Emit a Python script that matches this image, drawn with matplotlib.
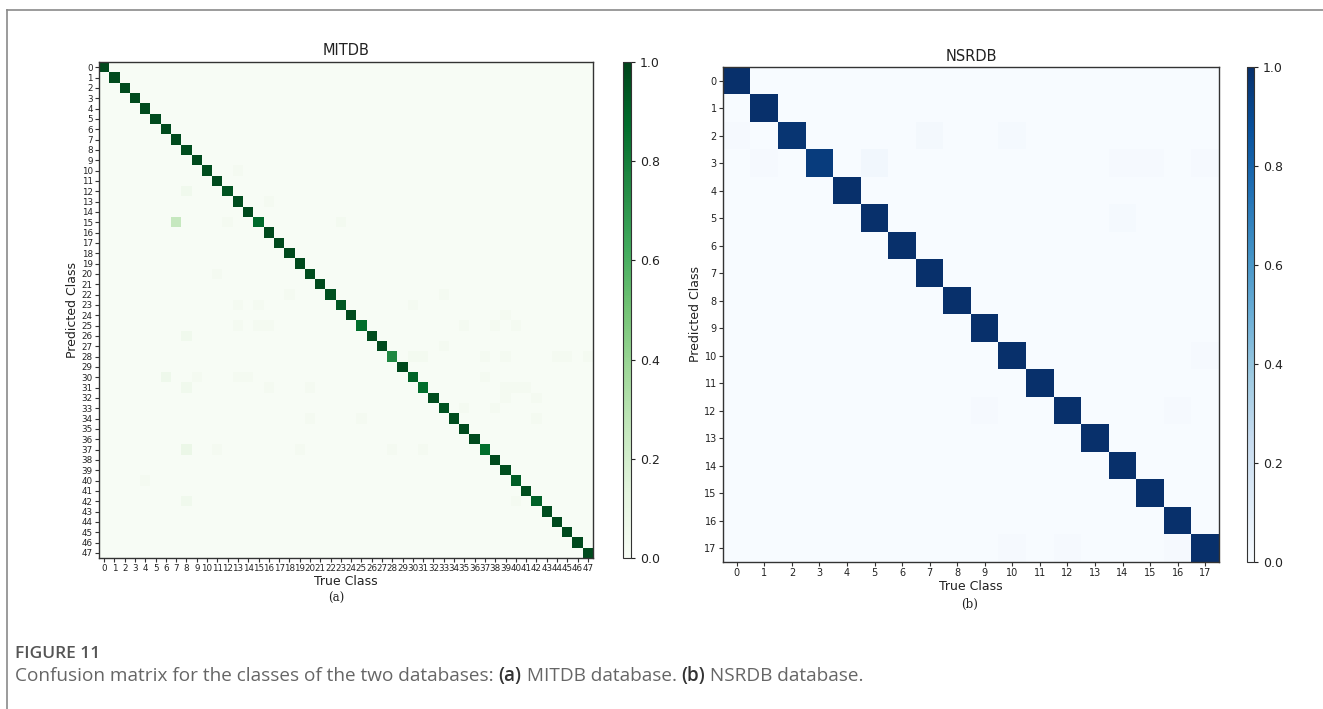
import numpy as np
import matplotlib
matplotlib.use("Agg")
import matplotlib.pyplot as plt
from matplotlib.lines import Line2D

# ---------------- data ----------------
mit_classes = list(range(48))
mit_diag = [0.98, 0.98, 0.98, 0.98, 0.98, 0.98, 0.98, 0.98, 0.97, 0.98,
            0.97, 0.98, 0.95, 0.97, 0.98, 0.88, 0.98, 0.98, 0.98, 0.98,
            0.97, 0.98, 0.96, 0.94, 0.98, 0.87, 0.97, 0.98, 0.76, 0.98,
            0.90, 0.87, 0.97, 0.95, 0.97, 0.98, 0.98, 0.87, 0.98, 0.97,
            0.92, 0.97, 0.91, 0.97, 0.98, 0.98, 0.98, 0.98]
mit_off_rows = [10, 12, 13, 15, 15, 15, 20, 22, 22, 23, 23, 23, 24, 25, 25, 25, 25, 25, 25,
                26, 27, 28, 28, 28, 28, 28, 28, 28, 30, 30, 30, 30, 30, 31, 31, 31, 31, 31, 31,
                32, 32, 33, 33, 34, 34, 34, 37, 37, 37, 37, 37, 40, 42, 42]
mit_off_cols = [13, 8, 16, 7, 12, 23, 11, 18, 33, 13, 15, 30, 39, 13, 15, 16, 35, 38, 40,
                8, 33, 30, 31, 37, 39, 44, 45, 47, 6, 9, 13, 14, 37, 8, 16, 20, 39, 40, 41,
                39, 42, 35, 38, 20, 25, 42, 8, 11, 19, 28, 31, 4, 8, 40]
mit_off_vals = [0.02, 0.05, 0.02, 0.25, 0.02, 0.03, 0.02, 0.02, 0.02, 0.02, 0.02, 0.02, 0.02,
                0.02, 0.02, 0.02, 0.02, 0.02, 0.02, 0.05, 0.02, 0.03, 0.03, 0.02, 0.02, 0.02,
                0.02, 0.02, 0.06, 0.02, 0.02, 0.02, 0.02, 0.05, 0.02, 0.02, 0.02, 0.02, 0.02,
                0.02, 0.02, 0.02, 0.02, 0.02, 0.02, 0.02, 0.08, 0.02, 0.02, 0.02, 0.02, 0.02,
                0.05, 0.02]

ns_classes = list(range(18))
ns_diag = [1.0, 1.0, 0.98, 0.95, 1.0, 1.0, 1.0, 1.0, 1.0,
           1.0, 1.0, 1.0, 1.0, 1.0, 1.0, 1.0, 1.0, 1.0]
ns_off_rows = [2, 2, 2, 3, 3, 3, 3, 3, 5, 10, 12, 12, 17, 17, 17]
ns_off_cols = [0, 7, 10, 1, 5, 14, 15, 17, 14, 17, 9, 16, 10, 12, 16]
ns_off_vals = [0.01, 0.02, 0.015, 0.01, 0.03, 0.01, 0.01, 0.01, 0.015, 0.01, 0.01, 0.01,
               0.01, 0.01, 0.01]

titles = ["MITDB", "NSRDB"]
xlabel = "True Class"
ylabel = "Predicted Class"
cbar_ticks = [0.0, 0.2, 0.4, 0.6, 0.8, 1.0]
caption_head = "FIGURE 11"
caption_parts = ["Confusion matrix for the classes of the two databases: ", "(a)",
                 " MITDB database. ", "(b)", " NSRDB database."]


def build(n, diag, rows, cols, vals):
    m = np.zeros((n, n))
    m[np.arange(n), np.arange(n)] = diag
    m[rows, cols] = vals
    return m


mit = build(len(mit_classes), mit_diag, mit_off_rows, mit_off_cols, mit_off_vals)
ns = build(len(ns_classes), ns_diag, ns_off_rows, ns_off_cols, ns_off_vals)

# ---------------- figure ----------------
W, H = 1323, 709
fig = plt.figure(figsize=(W / 100, H / 100), dpi=100)
fig.patch.set_facecolor("white")


def box(x0, y0, x1, y1):
    return [x0 / W, 1 - y1 / H, (x1 - x0) / W, (y1 - y0) / H]


# outer frame
fig.add_artist(Line2D([7 / W, 1], [1 - 10 / H, 1 - 10 / H], color="#8a8a8a", lw=1.2))
fig.add_artist(Line2D([7 / W, 7 / W], [0, 1 - 10 / H], color="#8a8a8a", lw=1.2))

spine_col = "#333333"


def draw(ax_box, cax_box, mat, classes, cmap, title, tick_fs, title_pad):
    ax = fig.add_axes(box(*ax_box))
    im = ax.imshow(mat, cmap=cmap, vmin=0, vmax=1, aspect="auto", interpolation="nearest")
    ax.set_xticks(range(len(classes)))
    ax.set_yticks(range(len(classes)))
    ax.set_xticklabels([str(c) for c in classes], fontsize=tick_fs, color="#222222")
    ax.set_yticklabels([str(c) for c in classes], fontsize=tick_fs, color="#222222")
    ax.tick_params(length=3, width=0.8, pad=1.5, color="#333333")
    ax.set_title(title, fontsize=10.5, color="#222222", pad=title_pad)
    ax.set_xlabel(xlabel, fontsize=9, color="#222222", labelpad=1)
    ax.set_ylabel(ylabel, fontsize=9, color="#222222", labelpad=2)
    for s in ax.spines.values():
        s.set_color(spine_col)
        s.set_linewidth(1.0)
    cax = fig.add_axes(box(*cax_box))
    cb = fig.colorbar(im, cax=cax, ticks=cbar_ticks)
    cb.ax.tick_params(labelsize=9, length=3, width=0.8, colors="#222222")
    cb.outline.set_edgecolor(spine_col)
    cb.outline.set_linewidth(0.8)
    return ax


draw((99, 62, 593, 558), (623, 62, 631, 558), mit, mit_classes, "Greens", titles[0], 6.3, 5)
draw((723, 67, 1219, 562), (1247, 67, 1254, 562), ns, ns_classes, "Blues", titles[1], 7, 4)

# sub-figure labels
fig.text(336 / W, 1 - 598 / H, "(a)", ha="center", va="center",
         fontsize=8.5, family="DejaVu Serif", color="#222222")
fig.text(970 / W, 1 - 604 / H, "(b)", ha="center", va="center",
         fontsize=8.5, family="DejaVu Serif", color="#222222")

# caption
fig.text(15 / W, 1 - 654 / H, caption_head, ha="left", va="center",
         fontsize=12.5, family="Open Sans", fontweight="semibold", color="#555555")

renderer = fig.canvas.get_renderer()
x = 15.0
for i, part in enumerate(caption_parts):
    bold = part in ("(a)", "(b)")
    t = fig.text(x / W, 1 - 676 / H, part, ha="left", va="center",
                 fontsize=13.7, family="Open Sans",
                 fontweight="semibold" if bold else "normal",
                 color="#333333" if bold else "#666666")
    bb = t.get_window_extent(renderer=renderer)
    x += bb.width

fig.savefig("out.png", dpi=100, facecolor="white")
